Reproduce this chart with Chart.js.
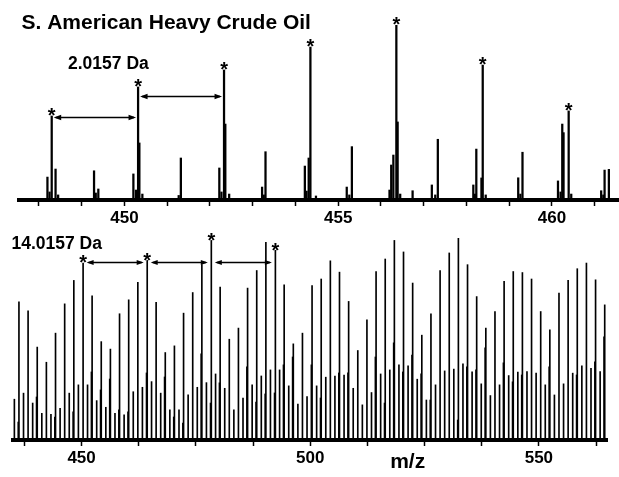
<!DOCTYPE html>
<html>
<head>
<meta charset="utf-8">
<script src="https://cdn.jsdelivr.net/npm/chart.js@4.4.1/dist/chart.umd.min.js"></script>
<style>
  html, body { margin: 0; padding: 0; background: #fff; }
  #wrap { position: relative; width: 619px; height: 477px; overflow: hidden; background: #fff; }
  #wrap canvas { position: absolute; left: 0; }
  #zoomChart { top: 0; }
  #wideChart { top: 226px; }
</style>
</head>
<body>
<div id="wrap">
  <canvas id="zoomChart" width="619" height="226"></canvas>
  <canvas id="wideChart" width="619" height="251"></canvas>
</div>
<script>
// ---- Expanded region (m/z 447.5 - 461.6) ----
const mzTop = [448.20, 448.30, 448.39, 449.29, 449.39, 450.21, 450.32, 450.35, 451.32, 452.22,
               452.33, 452.36, 453.22, 453.30, 454.22, 454.31, 454.35, 455.20, 455.32, 456.24,
               456.29, 456.36, 456.39, 456.74, 457.19, 457.33, 458.16, 458.23, 458.35, 458.38,
               459.21, 459.31, 460.14, 460.24, 460.27, 460.39, 461.15, 461.23, 461.33];
const intTop = [13.1, 48.0, 17.7, 16.7, 6.3, 14.9, 64.6, 32.6, 24.0, 18.3,
                74.3, 43.4, 7.4, 27.6, 19.4, 24.0, 87.4, 7.4, 30.5, 20.0,
                25.7, 100, 44.6, 5.3, 8.6, 34.7, 8.6, 29.1, 12.6, 77.1,
                12.7, 27.3, 10.9, 43.4, 38.5, 50.9, 5.3, 17.1, 17.5];
// low-level peaks clustered around each nominal mass
const mzTopLow = [448.25, 448.45, 449.33, 450.27, 450.42, 451.27, 452.27, 452.45, 453.26, 454.26,
                  454.48, 455.26, 456.20, 456.45, 457.27, 458.20, 458.45, 459.26, 460.20, 460.45,
                  461.20];
const intTopLow = [4.6, 2.9, 4.0, 5.7, 3.4, 2.6, 4.6, 3.4, 2.9, 5.1,
                   2.3, 2.9, 5.7, 3.4, 2.9, 3.4, 2.9, 3.4, 4.6, 3.4,
                   2.9];
// peaks of one series, 2.0157 Da apart (H2 spacing)
const starredTop = [448.30, 450.32, 452.33, 454.35, 456.36, 458.38, 460.39];
const tickLabelsTop = [450, 455, 460];

// ---- Broadband region (m/z 435 - 565) ----
const mzBottom = [
  435.3, 436.3, 437.3, 438.3, 439.3, 440.3, 441.3, 442.3, 443.3, 444.3,
  445.3, 446.3, 447.3, 448.3, 449.3, 450.33, 451.3, 452.3, 453.3, 454.3,
  455.3, 456.3, 457.3, 458.3, 459.3, 460.3, 461.3, 462.3, 463.3, 464.35,
  465.3, 466.3, 467.3, 468.3, 469.3, 470.3, 471.3, 472.3, 473.3, 474.3,
  475.3, 476.3, 477.3, 478.37, 479.3, 480.3, 481.3, 482.3, 483.3, 484.3,
  485.3, 486.3, 487.3, 488.3, 489.3, 490.3, 491.3, 492.38, 493.3, 494.3,
  495.3, 496.3, 497.3, 498.3, 499.3, 500.4, 501.4, 502.4, 503.4, 504.4,
  505.4, 506.4, 507.4, 508.4, 509.4, 510.4, 511.4, 512.4, 513.4, 514.4,
  515.4, 516.4, 517.4, 518.4, 519.4, 520.4, 521.4, 522.4, 523.4, 524.4,
  525.4, 526.4, 527.4, 528.4, 529.4, 530.4, 531.4, 532.4, 533.4, 534.4,
  535.4, 536.4, 537.4, 538.4, 539.4, 540.4, 541.4, 542.4, 543.4, 544.4,
  545.4, 546.4, 547.4, 548.4, 549.4, 550.4, 551.4, 552.4, 553.4, 554.4,
  555.4, 556.4, 557.4, 558.4, 559.4, 560.4, 561.4, 562.4, 563.4, 564.4];
const intBottom = [
  20.2, 68.4, 23.2, 64.0, 18.3, 46.0, 13.2, 38.5, 12.7, 52.9,
  15.7, 67.4, 23.2, 79.0, 27.3, 87.6, 27.3, 71.4, 19.5, 48.7,
  16.2, 45.0, 13.2, 62.5, 12.4, 69.4, 23.9, 78.0, 26.1, 88.9,
  28.9, 68.1, 23.2, 43.3, 14.9, 46.6, 14.9, 62.8, 22.3, 73.0,
  26.1, 86.8, 28.4, 98.8, 32.7, 75.7, 25.6, 49.9, 14.9, 55.4,
  20.7, 75.2, 27.3, 83.9, 31.7, 97.8, 34.7, 93.9, 34.7, 76.8,
  26.8, 47.6, 17.8, 52.9, 21.5, 76.5, 26.8, 79.7, 31.1, 88.7,
  31.7, 83.1, 32.2, 68.6, 25.6, 44.3, 17.4, 59.5, 23.5, 83.4,
  32.7, 89.6, 34.7, 98.8, 37.2, 93.1, 36.7, 77.7, 30.1, 51.9,
  19.8, 62.5, 27.3, 83.9, 34.2, 92.6, 35.1, 100, 37.7, 86.8,
  33.7, 71.0, 27.8, 55.4, 22.0, 63.6, 27.3, 78.5, 31.9, 83.4,
  33.6, 82.9, 33.9, 79.7, 33.1, 63.6, 27.3, 54.5, 22.3, 72.7,
  27.8, 79.0, 33.1, 84.8, 36.7, 87.6, 35.5, 79.3, 33.9, 66.9];
// close-lying companion peaks under the main lines
const mzBottomSat = [436.15, 440.15, 444.15, 448.15, 452.15, 454.15, 456.15, 458.15, 460.15, 464.2,
                     468.15, 470.15, 472.15, 476.15, 478.2, 480.15, 486.15, 488.15, 490.15, 492.2,
                     494.15, 496.15, 500.25, 502.25, 506.25, 508.25, 514.25, 516.25, 518.25, 520.25,
                     522.25, 524.25, 526.25, 532.25, 534.25, 536.25, 538.25, 542.25, 544.25, 546.25,
                     552.25, 558.25, 562.25, 564.25];
const intBottomSat = [8.9, 21.3, 11.4, 13.9, 33.7, 24.8, 30.2, 14.9, 13.9, 33.2,
                      31.2, 11.4, 8.4, 42.6, 18.3, 28.3, 36.2, 18.8, 22.8, 23.3,
                      37.2, 41.1, 37.2, 20.8, 33.2, 33.2, 41.1, 18.3, 48.1, 33.7,
                      42.1, 32.7, 19.8, 9.9, 36.2, 34.7, 45.6, 38.2, 28.8, 32.2,
                      36.2, 32.2, 38.7, 51.1];
// peaks of one homologous series, 14.0157 Da apart (CH2 spacing)
const starredBottom = [450.33, 464.35, 478.37, 492.38];
const tickLabelsBottom = [450, 500, 550];

const FONT = "'Liberation Sans', Arial, Helvetica, sans-serif";
Chart.defaults.font.family = FONT;
Chart.defaults.color = '#000';

const toPoints = (xs, ys) => xs.map((x, i) => ({ x: x, y: ys[i] }));

// Stars over marked peaks, double-headed spacing arrows and free text labels
const marksPlugin = {
  id: 'marks',
  afterDraw(chart, args, o) {
    const ctx = chart.ctx, xs = chart.scales.x, ys = chart.scales.y;
    const pts = chart.data.datasets[0].data;
    ctx.save();
    ctx.fillStyle = '#000';
    ctx.strokeStyle = '#000';

    ctx.font = 'bold ' + o.starSize + 'px ' + FONT;
    ctx.textAlign = 'center';
    ctx.textBaseline = 'alphabetic';
    o.stars.forEach(m => {
      const p = pts.find(d => d.x === m);
      const px = xs.getPixelForValue(p.x);
      const py = ys.getPixelForValue(p.y);
      ctx.fillText('*', px, py - o.starLift + 0.56 * o.starSize);
    });

    o.arrows.forEach(a => {
      const x1 = xs.getPixelForValue(a.from) + o.gap;
      const x2 = xs.getPixelForValue(a.to) - o.gap;
      const yy = Math.round(ys.getPixelForValue(a.level)) + 0.5;
      ctx.lineWidth = 1.5;
      ctx.beginPath();
      ctx.moveTo(x1 + 2, yy);
      ctx.lineTo(x2 - 2, yy);
      ctx.stroke();
      ctx.beginPath();
      ctx.moveTo(x1, yy);
      ctx.lineTo(x1 + o.head, yy - o.headHalf);
      ctx.lineTo(x1 + o.head, yy + o.headHalf);
      ctx.closePath();
      ctx.fill();
      ctx.beginPath();
      ctx.moveTo(x2, yy);
      ctx.lineTo(x2 - o.head, yy - o.headHalf);
      ctx.lineTo(x2 - o.head, yy + o.headHalf);
      ctx.closePath();
      ctx.fill();
    });

    o.texts.forEach(t => {
      ctx.font = 'bold ' + t.size + 'px ' + FONT;
      ctx.textAlign = t.align || 'left';
      ctx.textBaseline = 'alphabetic';
      ctx.fillText(t.text, t.x, t.y);
    });
    ctx.restore();
  }
};

function xAxis(min, max, step, labels, axisHeight, lineWidth) {
  return {
    type: 'linear',
    min: min,
    max: max,
    offset: false,
    border: { display: true, color: '#000', width: lineWidth },
    grid: { display: true, offset: false, drawOnChartArea: false, drawTicks: true,
            tickLength: 6, tickWidth: 1.5, tickColor: '#000', color: '#000' },
    ticks: {
      stepSize: step, autoSkip: false, includeBounds: false, maxTicksLimit: 100,
      maxRotation: 0, minRotation: 0, padding: 2, color: '#000',
      font: { family: FONT, size: 17, weight: 'bold' },
      callback: v => (labels.some(l => Math.abs(l - v) < 1e-6) ? String(Math.round(v)) : '')
    },
    afterFit: s => { s.height = axisHeight; }
  };
}

function stickSet(points, thickness) {
  return {
    data: points,
    backgroundColor: '#000',
    borderWidth: 0,
    barThickness: thickness,
    grouped: false
  };
}

const commonOptions = {
  responsive: false,
  animation: false,
  events: [],
  plugins: { legend: { display: false }, tooltip: { enabled: false }, title: { display: false } }
};

new Chart(document.getElementById('zoomChart'), {
  type: 'bar',
  data: { datasets: [stickSet(toPoints(mzTop, intTop), 1.6),
                     stickSet(toPoints(mzTopLow, intTopLow), 1.6)] },
  options: Object.assign({}, commonOptions, {
    layout: { padding: { left: 19, right: 0, top: 25, bottom: 0 } },
    scales: {
      x: xAxis(447.535, 461.567, 1, tickLabelsTop, 26, 4),
      y: { display: false, min: 0, max: 100 }
    },
    plugins: Object.assign({}, commonOptions.plugins, {
      marks: {
        stars: starredTop, starSize: 20, starLift: 5.5,
        arrows: [
          { from: starredTop[0], to: starredTop[1], level: 47.4 },
          { from: starredTop[1], to: starredTop[2], level: 59.4 }
        ],
        gap: 2, head: 7.5, headHalf: 2.8,
        texts: [
          { text: 'S. American Heavy Crude Oil', x: 21.5, y: 29, size: 21 },
          { text: '2.0157 Da', x: 68, y: 69, size: 17.5 }
        ]
      }
    })
  }),
  plugins: [marksPlugin]
});

new Chart(document.getElementById('wideChart'), {
  type: 'bar',
  data: { datasets: [stickSet(toPoints(mzBottom, intBottom), 1.0),
                     stickSet(toPoints(mzBottomSat, intBottomSat), 1.0)] },
  options: Object.assign({}, commonOptions, {
    layout: { padding: { left: 13, right: 12, top: 12, bottom: 0 } },
    scales: {
      x: xAxis(435.0, 564.9, 12.5, tickLabelsBottom, 37, 4),
      y: { display: false, min: 0, max: 100 }
    },
    plugins: Object.assign({}, commonOptions.plugins, {
      marks: {
        stars: starredBottom, starSize: 20, starLift: 5,
        arrows: [
          { from: starredBottom[0], to: starredBottom[1], level: 88 },
          { from: starredBottom[1], to: starredBottom[2], level: 88 },
          { from: starredBottom[2], to: starredBottom[3], level: 88 }
        ],
        gap: 3.5, head: 7, headHalf: 2.6,
        texts: [
          { text: '14.0157 Da', x: 11.5, y: 23.3, size: 17.5 },
          { text: 'm/z', x: 407.7, y: 242, size: 21, align: 'center' }
        ]
      }
    })
  }),
  plugins: [marksPlugin]
});
</script>
</body>
</html>
